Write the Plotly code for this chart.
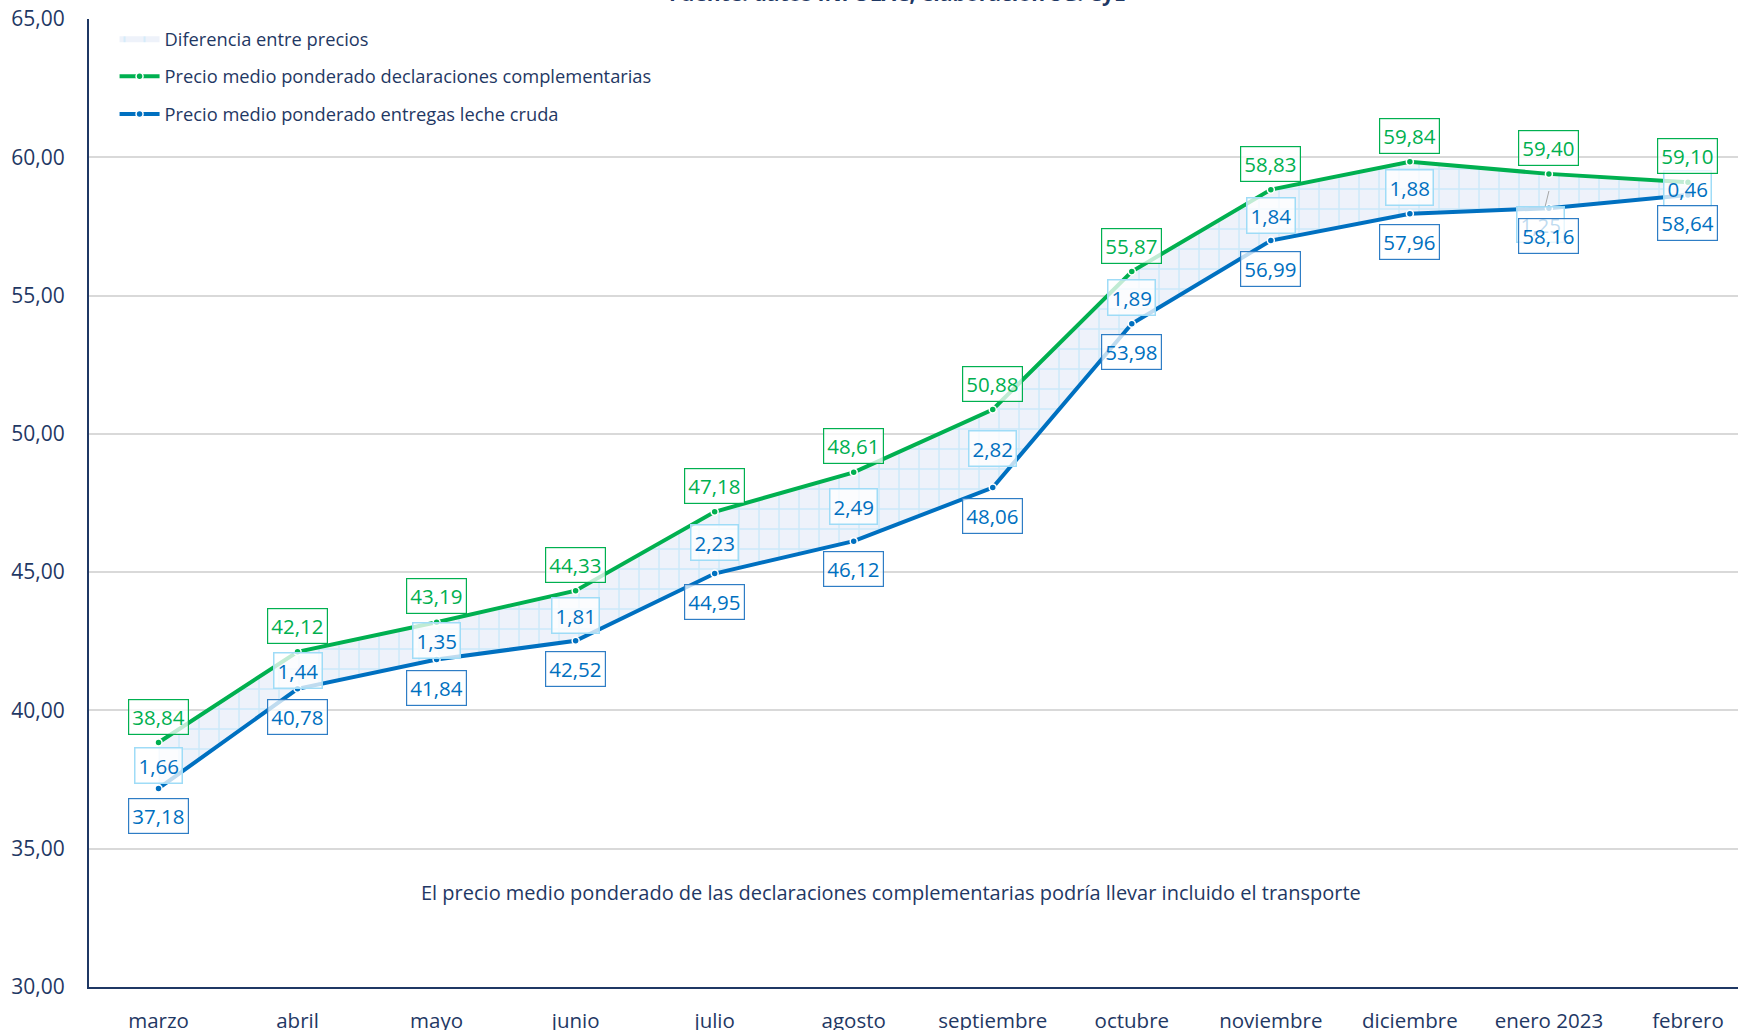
import plotly.graph_objects as go

meses = ["marzo", "abril", "mayo", "junio", "julio", "agosto", "septiembre",
         "octubre", "noviembre", "diciembre", "enero 2023", "febrero"]
precio_complementarias = [38.84, 42.12, 43.19, 44.33, 47.18, 48.61, 50.88,
                          55.87, 58.83, 59.84, 59.40, 59.10]
precio_leche_cruda = [37.18, 40.78, 41.84, 42.52, 44.95, 46.12, 48.06,
                      53.98, 56.99, 57.96, 58.16, 58.64]
diferencia = [1.66, 1.44, 1.35, 1.81, 2.23, 2.49, 2.82, 1.89, 1.84, 1.88, 1.25, 0.46]
y_ticks = [30, 35, 40, 45, 50, 55, 60, 65]

GREEN = "#00b050"
BLUE = "#0070c0"
NAVY = "#1f3864"
FONT = "Open Sans"

def fmt(v):
    return f"{v:.2f}".replace(".", ",")

fig = go.Figure()

# baseline for the fill (not in legend)
fig.add_trace(go.Scatter(
    x=meses, y=precio_leche_cruda, mode="lines", line=dict(width=0, color=BLUE),
    showlegend=False, hoverinfo="skip"))
# difference band
fig.add_trace(go.Scatter(
    x=meses, y=precio_complementarias, mode="lines", line=dict(width=0, color="#bfe8fb"),
    fill="tonexty", fillcolor="#eef2fa",
    fillpattern=dict(shape="+", fgcolor="#a9e0f9", bgcolor="#eef2fa", size=20, solidity=0.14),
    name="Diferencia entre precios", legendgroup="a"))
fig.add_trace(go.Scatter(
    x=meses, y=precio_complementarias, mode="lines+markers",
    line=dict(width=4, color=GREEN),
    marker=dict(size=7, color=GREEN, line=dict(color="white", width=1.5)),
    name="Precio medio ponderado declaraciones complementarias", legendgroup="b"))
fig.add_trace(go.Scatter(
    x=meses, y=precio_leche_cruda, mode="lines+markers",
    line=dict(width=4, color=BLUE),
    marker=dict(size=7, color=BLUE, line=dict(color="white", width=1.5)),
    name="Precio medio ponderado entregas leche cruda", legendgroup="c"))

LABEL_SIZE = 20.5
annotations = []
# difference labels (bottom layer)
for m, g, b, d in zip(meses, precio_complementarias, precio_leche_cruda, diferencia):
    mid = (g + b) / 2
    base = dict(x=m, y=mid, text=fmt(d),
                font=dict(family=FONT, size=LABEL_SIZE, color=BLUE),
                bgcolor="rgba(255,255,255,0.75)", bordercolor="#9fdcf7",
                borderwidth=1.5, borderpad=3)
    if m == "enero 2023":
        base.update(showarrow=True, arrowhead=0, arrowwidth=1,
                    arrowcolor="#a6a6a6", ax=-8, ay=33)
    else:
        base.update(showarrow=False)
    annotations.append(base)
# blue labels
for m, b in zip(meses, precio_leche_cruda):
    annotations.append(dict(
        x=m, y=b, text=fmt(b), showarrow=False, yshift=-28,
        font=dict(family=FONT, size=LABEL_SIZE, color=BLUE),
        bgcolor="rgba(255,255,255,0.75)", bordercolor="#2e7dc5", borderwidth=1.2, borderpad=3))
# green labels
for m, g in zip(meses, precio_complementarias):
    annotations.append(dict(
        x=m, y=g, text=fmt(g), showarrow=False, yshift=26,
        font=dict(family=FONT, size=LABEL_SIZE, color=GREEN),
        bgcolor="rgba(255,255,255,0.75)", bordercolor=GREEN, borderwidth=1.2, borderpad=3))

annotations.append(dict(
    xref="paper", yref="paper", x=0.4865, y=0.082, showarrow=False,
    text="El precio medio ponderado de las declaraciones complementarias podría llevar incluido el transporte",
    font=dict(family=FONT, size=20, color=NAVY)))
annotations.append(dict(
    xref="paper", yref="paper", x=0.49, y=1, yanchor="bottom", yshift=10, showarrow=False,
    text="<b>Fuente: datos INFOLAC, elaboración SG. CyE</b>",
    font=dict(family=FONT, size=21, color=NAVY)))

fig.update_layout(
    width=1738, height=1030,
    margin=dict(l=89, r=0, t=19, b=43, autoexpand=False),
    paper_bgcolor="white", plot_bgcolor="white",
    separators=",.",
    font=dict(family=FONT, size=20, color=NAVY),
    showlegend=True,
    legend=dict(x=0.0155, y=0.999, xanchor="left", yanchor="top",
                font=dict(family=FONT, size=18.3, color=NAVY),
                bgcolor="rgba(0,0,0,0)", tracegroupgap=11, itemwidth=40),
    annotations=annotations,
    xaxis=dict(type="category", range=[-0.5, 11.36], showgrid=False, automargin=False,
               showline=True, linecolor=NAVY, linewidth=2,
               ticks="outside", ticklen=14, tickcolor="rgba(0,0,0,0)",
               tickfont=dict(family=FONT, size=20.5, color=NAVY)),
    yaxis=dict(range=[30, 65], tickvals=y_ticks, tickformat=".2f", automargin=False,
               showgrid=True, gridcolor="#d9d9d9", gridwidth=1.5,
               showline=True, linecolor=NAVY, linewidth=2, zeroline=False,
               ticks="outside", ticklen=18, tickcolor="rgba(0,0,0,0)",
               tickfont=dict(family=FONT, size=21, color=NAVY)),
)

fig.write_html("out.html", config={"displayModeBar": False},
               post_script="document.body.style.margin='0';document.body.style.overflow='hidden';")
